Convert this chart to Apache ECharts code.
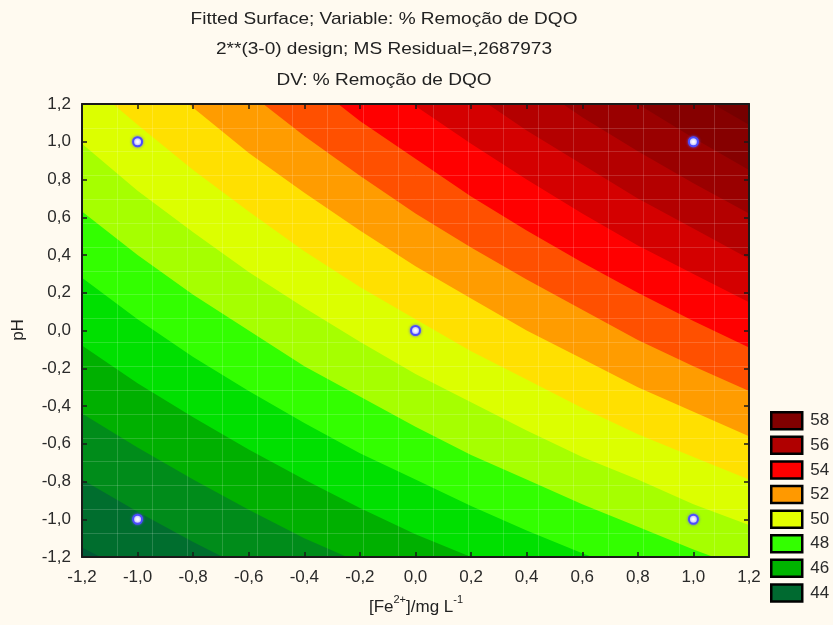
<!DOCTYPE html>
<html>
<head>
<meta charset="utf-8">
<script src="https://cdn.jsdelivr.net/npm/echarts@6/dist/echarts.min.js"></script>
<style>
  html, body { margin: 0; padding: 0; background: #fffaf0; }
  #chart { width: 833px; height: 625px; }
</style>
</head>
<body>
<div id="chart"></div>
<script>
// ---- data ----
// x positions ([Fe2+], coded) where each contour boundary was read
const xFe = [-1.2, -1.0, -0.8, -0.6, -0.4, -0.2, 0, 0.2, 0.4, 0.6, 0.8, 1.0, 1.2];
// pH (coded) position of each contour boundary at those x positions
const c44 = [-1.15, -1.30, -1.45, -1.58, -1.71, -1.82, -1.93, -2.03, -2.12, -2.21, -2.29, -2.37, -2.44];
const c45 = [-0.79, -0.96, -1.12, -1.27, -1.40, -1.53, -1.64, -1.75, -1.85, -1.95, -2.04, -2.13, -2.21];
const c46 = [-0.44, -0.62, -0.79, -0.95, -1.10, -1.23, -1.36, -1.48, -1.59, -1.69, -1.79, -1.88, -1.97];
const c47 = [-0.08, -0.28, -0.46, -0.63, -0.79, -0.94, -1.08, -1.20, -1.32, -1.44, -1.54, -1.64, -1.74];
const c48 = [0.28, 0.06, -0.14, -0.32, -0.49, -0.65, -0.79, -0.93, -1.06, -1.18, -1.29, -1.40, -1.50];
const c49 = [0.63, 0.40, 0.19, 0.00, -0.19, -0.35, -0.51, -0.66, -0.79, -0.92, -1.04, -1.16, -1.27];
const c50 = [0.99, 0.74, 0.52, 0.31, 0.12, -0.06, -0.23, -0.38, -0.53, -0.67, -0.79, -0.92, -1.03];
const c51 = [1.34, 1.09, 0.85, 0.63, 0.42, 0.23, 0.06, -0.11, -0.26, -0.41, -0.55, -0.67, -0.79];
const c52 = [1.70, 1.43, 1.18, 0.94, 0.73, 0.53, 0.34, 0.17, 0.00, -0.15, -0.30, -0.43, -0.56];
const c53 = [2.06, 1.77, 1.50, 1.26, 1.03, 0.82, 0.62, 0.44, 0.27, 0.11, -0.05, -0.19, -0.32];
const c54 = [2.41, 2.11, 1.83, 1.57, 1.34, 1.11, 0.91, 0.71, 0.53, 0.36, 0.20, 0.05, -0.09];
const c55 = [2.77, 2.45, 2.16, 1.89, 1.64, 1.41, 1.19, 0.99, 0.80, 0.62, 0.45, 0.30, 0.15];
const c56 = [3.12, 2.79, 2.49, 2.20, 1.94, 1.70, 1.47, 1.26, 1.06, 0.88, 0.70, 0.54, 0.38];
const c57 = [3.48, 3.13, 2.82, 2.52, 2.25, 1.99, 1.76, 1.54, 1.33, 1.13, 0.95, 0.78, 0.62];
const c58 = [3.84, 3.47, 3.14, 2.84, 2.55, 2.29, 2.04, 1.81, 1.59, 1.39, 1.20, 1.02, 0.85];
const c59 = [4.19, 3.82, 3.47, 3.15, 2.86, 2.58, 2.32, 2.08, 1.86, 1.65, 1.45, 1.26, 1.09];
// band values and their colours (band n lies between boundary n and n+1)
const bandValues = [43, 44, 45, 46, 47, 48, 49, 50, 51, 52, 53, 54, 55, 56, 57, 58, 59];
const bandColors = ['#005a36', '#006e2e', '#008c1a', '#00b000', '#00e000', '#33ff00', '#a6ff00', '#dcff00',
                    '#ffe000', '#ff9c00', '#ff5000', '#ff0000', '#d40000', '#b40000', '#9a0000', '#860000', '#760000'];
// legend
const legendLabels = ['58', '56', '54', '52', '50', '48', '46', '44'];
const legendColors = ['#800000', '#b00000', '#ff0000', '#ff9900', '#e4ff00', '#33ff00', '#00b400', '#006a30'];
// design points
const designFe = [-1, 1, 0, -1, 1];
const designPH = [1, 1, 0, -1, -1];
// texts
const titleLines = [
  'Fitted Surface; Variable: % Remoção de DQO',
  '2**(3-0) design; MS Residual=,2687973',
  'DV: % Remoção de DQO'
];
const yName = 'pH';

// ---- chart ----
const boundaries = [c44, c45, c46, c47, c48, c49, c50, c51, c52, c53, c54, c55, c56, c57, c58, c59];
const FONT = 'Liberation Sans, Arial, sans-serif';
const fmt = v => (Math.round(v * 10) / 10).toFixed(1).replace('.', ',');

const axisLineStyle = { show: true, onZero: false, lineStyle: { color: '#1a1a1a', width: 2 } };
const axisTickStyle = { show: true, inside: true, length: 5, lineStyle: { color: '#1a1a1a', width: 1.5 } };

const series = [];
// paint from the highest boundary downwards; each fill covers everything below its boundary
for (let i = boundaries.length - 1; i >= 0; i--) {
  const ys = boundaries[i];
  series.push({
    type: 'line',
    name: 'b' + (44 + i),
    xAxisIndex: 0, yAxisIndex: 0,
    data: xFe.map((x, k) => [x, ys[k]]),
    symbol: 'none',
    smooth: false,
    clip: true,
    silent: true,
    lineStyle: { width: 0 },
    areaStyle: { color: bandColors[i], opacity: 1, origin: 'start' },
    z: 2
  });
}
// legend entries
legendLabels.forEach((name, i) => {
  series.push({
    type: 'scatter', name, data: [],
    itemStyle: { color: legendColors[i], opacity: 1, borderColor: '#000', borderWidth: 2.5 }
  });
});
// design points
series.push({
  type: 'scatter',
  name: 'design',
  data: designFe.map((x, i) => [x, designPH[i]]),
  symbol: 'circle',
  symbolSize: 9,
  itemStyle: { color: '#ffffff', opacity: 1, borderColor: '#4b4bff', borderWidth: 2, shadowBlur: 3, shadowColor: 'rgba(90,90,255,0.8)' },
  z: 20
});

const graphic = [];
titleLines.forEach((t, i) => {
  graphic.push({
    type: 'text', x: 384, y: 19 + i * 30.5, scaleX: 1.12,
    style: { text: t, font: '17px ' + FONT, fill: '#222', textAlign: 'center', textVerticalAlign: 'middle' },
    z: 100
  });
});
graphic.push({
  type: 'text', x: 18, y: 330, rotation: Math.PI / 2,
  style: { text: yName, font: '17px ' + FONT, fill: '#222', textAlign: 'center', textVerticalAlign: 'middle' },
  z: 100
});
graphic.push({
  type: 'text', x: 416, y: 605,
  style: {
    text: '{b|[Fe}{s|2+}{b|]/mg L}{s|-1}',
    textAlign: 'center', textVerticalAlign: 'middle',
    rich: {
      b: { fontSize: 17, fontFamily: FONT, fill: '#222', lineHeight: 22, verticalAlign: 'bottom' },
      s: { fontSize: 11, fontFamily: FONT, fill: '#222', lineHeight: 22, verticalAlign: 'top' }
    }
  },
  z: 100
});

const option = {
  backgroundColor: '#fffaf0',
  animation: false,
  grid: { left: 82, top: 104, width: 667, height: 453, show: true, backgroundColor: bandColors[16], borderWidth: 0 },
  xAxis: [
    { type: 'value', min: -1.2, max: 1.2, interval: 0.2, position: 'bottom', z: 10,
      axisLine: axisLineStyle, axisTick: axisTickStyle,
      axisLabel: { formatter: fmt, color: '#2a2a2a', fontSize: 17, fontFamily: FONT, margin: 12 },
      splitLine: { show: false } },
    { type: 'value', min: -1.2, max: 1.2, interval: 0.2, position: 'top', z: 10,
      axisLine: axisLineStyle, axisTick: axisTickStyle, axisLabel: { show: false }, splitLine: { show: false } },
    { type: 'value', min: 0, max: 19, interval: 1, position: 'bottom', z: 4,
      axisLine: { show: false }, axisTick: { show: false }, axisLabel: { show: false },
      splitLine: { show: true, lineStyle: { color: 'rgba(255,255,255,0.16)', width: 1 } } }
  ],
  yAxis: [
    { type: 'value', min: -1.2, max: 1.2, interval: 0.2, position: 'left', z: 10,
      axisLine: axisLineStyle, axisTick: axisTickStyle,
      axisLabel: { formatter: fmt, color: '#2a2a2a', fontSize: 17, fontFamily: FONT, margin: 11 },
      splitLine: { show: false } },
    { type: 'value', min: -1.2, max: 1.2, interval: 0.2, position: 'right', z: 10,
      axisLine: axisLineStyle, axisTick: axisTickStyle, axisLabel: { show: false }, splitLine: { show: false } },
    { type: 'value', min: 0, max: 19, interval: 1, position: 'left', z: 4,
      axisLine: { show: false }, axisTick: { show: false }, axisLabel: { show: false },
      splitLine: { show: true, lineStyle: { color: 'rgba(255,255,255,0.16)', width: 1 } } }
  ],
  legend: {
    orient: 'vertical', left: 770, top: 411, padding: 0,
    itemWidth: 31, itemHeight: 17, itemGap: 5.1, icon: 'rect',
    data: legendLabels, selectedMode: false,
    textStyle: { fontSize: 17, lineHeight: 17, color: '#2a2a2a', fontFamily: FONT, padding: [0, 0, 0, 3] },
    itemStyle: { borderColor: '#000', borderWidth: 2.5, opacity: 1 }
  },
  graphic,
  series
};

const chart = echarts.init(document.getElementById('chart'), null, { renderer: 'canvas' });
chart.setOption(option);
</script>
</body>
</html>
